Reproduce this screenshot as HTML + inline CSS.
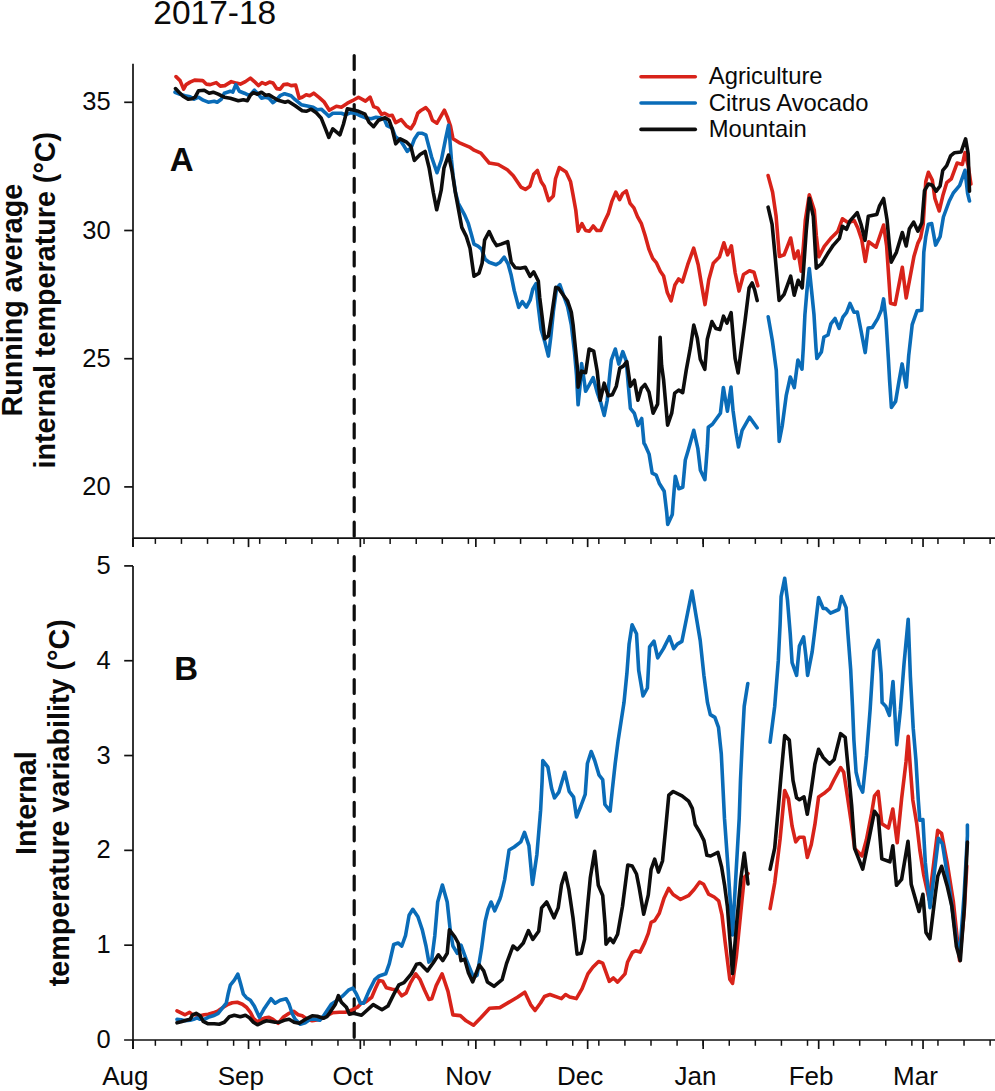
<!DOCTYPE html>
<html><head><meta charset="utf-8"><style>
html,body{margin:0;padding:0;background:#fff;}
svg{display:block;}
text{font-family:"Liberation Sans",sans-serif;fill:#0a0a0a;}
.ax{stroke:#111;stroke-width:1.7;}
.tk{stroke:#111;stroke-width:1.5;}
.tl{font-size:25.5px;text-anchor:end;}
.ml{font-size:26px;text-anchor:middle;}
.title{font-size:33.5px;}
.pl{font-size:33px;font-weight:bold;}
.yl{font-size:28.7px;font-weight:bold;text-anchor:middle;}
.lg{font-size:23.8px;}
.dash{stroke:#0d0d0d;stroke-width:3.2;stroke-dasharray:14 10.56;stroke-linecap:round;}
</style></head><body>
<svg width="995" height="1091" viewBox="0 0 995 1091">
<line x1="133.0" y1="63.7" x2="133.0" y2="547.1" class="ax"/>
<line x1="133.0" y1="538.1" x2="1000" y2="538.1" class="ax"/>
<line x1="133.00" y1="538.1" x2="133.00" y2="547.1" class="ax"/>
<line x1="248.52" y1="538.1" x2="248.52" y2="547.1" class="ax"/>
<line x1="360.32" y1="538.1" x2="360.32" y2="547.1" class="ax"/>
<line x1="475.85" y1="538.1" x2="475.85" y2="547.1" class="ax"/>
<line x1="587.65" y1="538.1" x2="587.65" y2="547.1" class="ax"/>
<line x1="703.17" y1="538.1" x2="703.17" y2="547.1" class="ax"/>
<line x1="818.69" y1="538.1" x2="818.69" y2="547.1" class="ax"/>
<line x1="923.04" y1="538.1" x2="923.04" y2="547.1" class="ax"/>
<line x1="155.36" y1="538.1" x2="155.36" y2="543.9" class="tk"/>
<line x1="181.45" y1="538.1" x2="181.45" y2="543.9" class="tk"/>
<line x1="207.53" y1="538.1" x2="207.53" y2="543.9" class="tk"/>
<line x1="233.62" y1="538.1" x2="233.62" y2="543.9" class="tk"/>
<line x1="259.70" y1="538.1" x2="259.70" y2="543.9" class="tk"/>
<line x1="285.79" y1="538.1" x2="285.79" y2="543.9" class="tk"/>
<line x1="311.88" y1="538.1" x2="311.88" y2="543.9" class="tk"/>
<line x1="337.96" y1="538.1" x2="337.96" y2="543.9" class="tk"/>
<line x1="364.05" y1="538.1" x2="364.05" y2="543.9" class="tk"/>
<line x1="390.14" y1="538.1" x2="390.14" y2="543.9" class="tk"/>
<line x1="416.22" y1="538.1" x2="416.22" y2="543.9" class="tk"/>
<line x1="442.31" y1="538.1" x2="442.31" y2="543.9" class="tk"/>
<line x1="468.39" y1="538.1" x2="468.39" y2="543.9" class="tk"/>
<line x1="494.48" y1="538.1" x2="494.48" y2="543.9" class="tk"/>
<line x1="520.57" y1="538.1" x2="520.57" y2="543.9" class="tk"/>
<line x1="546.65" y1="538.1" x2="546.65" y2="543.9" class="tk"/>
<line x1="572.74" y1="538.1" x2="572.74" y2="543.9" class="tk"/>
<line x1="598.83" y1="538.1" x2="598.83" y2="543.9" class="tk"/>
<line x1="624.91" y1="538.1" x2="624.91" y2="543.9" class="tk"/>
<line x1="651.00" y1="538.1" x2="651.00" y2="543.9" class="tk"/>
<line x1="677.08" y1="538.1" x2="677.08" y2="543.9" class="tk"/>
<line x1="703.17" y1="538.1" x2="703.17" y2="543.9" class="tk"/>
<line x1="729.26" y1="538.1" x2="729.26" y2="543.9" class="tk"/>
<line x1="755.34" y1="538.1" x2="755.34" y2="543.9" class="tk"/>
<line x1="781.43" y1="538.1" x2="781.43" y2="543.9" class="tk"/>
<line x1="807.51" y1="538.1" x2="807.51" y2="543.9" class="tk"/>
<line x1="833.60" y1="538.1" x2="833.60" y2="543.9" class="tk"/>
<line x1="859.69" y1="538.1" x2="859.69" y2="543.9" class="tk"/>
<line x1="885.77" y1="538.1" x2="885.77" y2="543.9" class="tk"/>
<line x1="911.86" y1="538.1" x2="911.86" y2="543.9" class="tk"/>
<line x1="937.95" y1="538.1" x2="937.95" y2="543.9" class="tk"/>
<line x1="964.03" y1="538.1" x2="964.03" y2="543.9" class="tk"/>
<line x1="990.12" y1="538.1" x2="990.12" y2="543.9" class="tk"/>
<line x1="133.0" y1="565.9" x2="133.0" y2="1049.0" class="ax"/>
<line x1="124.1" y1="1040.0" x2="1000" y2="1040.0" class="ax"/>
<line x1="133.00" y1="1040.0" x2="133.00" y2="1049.0" class="ax"/>
<line x1="248.52" y1="1040.0" x2="248.52" y2="1049.0" class="ax"/>
<line x1="360.32" y1="1040.0" x2="360.32" y2="1049.0" class="ax"/>
<line x1="475.85" y1="1040.0" x2="475.85" y2="1049.0" class="ax"/>
<line x1="587.65" y1="1040.0" x2="587.65" y2="1049.0" class="ax"/>
<line x1="703.17" y1="1040.0" x2="703.17" y2="1049.0" class="ax"/>
<line x1="818.69" y1="1040.0" x2="818.69" y2="1049.0" class="ax"/>
<line x1="923.04" y1="1040.0" x2="923.04" y2="1049.0" class="ax"/>
<line x1="155.36" y1="1040.0" x2="155.36" y2="1045.8" class="tk"/>
<line x1="181.45" y1="1040.0" x2="181.45" y2="1045.8" class="tk"/>
<line x1="207.53" y1="1040.0" x2="207.53" y2="1045.8" class="tk"/>
<line x1="233.62" y1="1040.0" x2="233.62" y2="1045.8" class="tk"/>
<line x1="259.70" y1="1040.0" x2="259.70" y2="1045.8" class="tk"/>
<line x1="285.79" y1="1040.0" x2="285.79" y2="1045.8" class="tk"/>
<line x1="311.88" y1="1040.0" x2="311.88" y2="1045.8" class="tk"/>
<line x1="337.96" y1="1040.0" x2="337.96" y2="1045.8" class="tk"/>
<line x1="364.05" y1="1040.0" x2="364.05" y2="1045.8" class="tk"/>
<line x1="390.14" y1="1040.0" x2="390.14" y2="1045.8" class="tk"/>
<line x1="416.22" y1="1040.0" x2="416.22" y2="1045.8" class="tk"/>
<line x1="442.31" y1="1040.0" x2="442.31" y2="1045.8" class="tk"/>
<line x1="468.39" y1="1040.0" x2="468.39" y2="1045.8" class="tk"/>
<line x1="494.48" y1="1040.0" x2="494.48" y2="1045.8" class="tk"/>
<line x1="520.57" y1="1040.0" x2="520.57" y2="1045.8" class="tk"/>
<line x1="546.65" y1="1040.0" x2="546.65" y2="1045.8" class="tk"/>
<line x1="572.74" y1="1040.0" x2="572.74" y2="1045.8" class="tk"/>
<line x1="598.83" y1="1040.0" x2="598.83" y2="1045.8" class="tk"/>
<line x1="624.91" y1="1040.0" x2="624.91" y2="1045.8" class="tk"/>
<line x1="651.00" y1="1040.0" x2="651.00" y2="1045.8" class="tk"/>
<line x1="677.08" y1="1040.0" x2="677.08" y2="1045.8" class="tk"/>
<line x1="703.17" y1="1040.0" x2="703.17" y2="1045.8" class="tk"/>
<line x1="729.26" y1="1040.0" x2="729.26" y2="1045.8" class="tk"/>
<line x1="755.34" y1="1040.0" x2="755.34" y2="1045.8" class="tk"/>
<line x1="781.43" y1="1040.0" x2="781.43" y2="1045.8" class="tk"/>
<line x1="807.51" y1="1040.0" x2="807.51" y2="1045.8" class="tk"/>
<line x1="833.60" y1="1040.0" x2="833.60" y2="1045.8" class="tk"/>
<line x1="859.69" y1="1040.0" x2="859.69" y2="1045.8" class="tk"/>
<line x1="885.77" y1="1040.0" x2="885.77" y2="1045.8" class="tk"/>
<line x1="911.86" y1="1040.0" x2="911.86" y2="1045.8" class="tk"/>
<line x1="937.95" y1="1040.0" x2="937.95" y2="1045.8" class="tk"/>
<line x1="964.03" y1="1040.0" x2="964.03" y2="1045.8" class="tk"/>
<line x1="990.12" y1="1040.0" x2="990.12" y2="1045.8" class="tk"/>
<line x1="124.2" y1="102.30" x2="133.0" y2="102.30" class="ax"/>
<text x="110.6" y="110.30" class="tl">35</text>
<line x1="124.2" y1="230.50" x2="133.0" y2="230.50" class="ax"/>
<text x="110.6" y="238.50" class="tl">30</text>
<line x1="124.2" y1="358.70" x2="133.0" y2="358.70" class="ax"/>
<text x="110.6" y="366.70" class="tl">25</text>
<line x1="124.2" y1="486.90" x2="133.0" y2="486.90" class="ax"/>
<text x="110.6" y="494.90" class="tl">20</text>
<line x1="124.2" y1="945.18" x2="133.0" y2="945.18" class="ax"/>
<text x="110.6" y="953.18" class="tl">1</text>
<line x1="124.2" y1="850.36" x2="133.0" y2="850.36" class="ax"/>
<text x="110.6" y="858.36" class="tl">2</text>
<line x1="124.2" y1="755.54" x2="133.0" y2="755.54" class="ax"/>
<text x="110.6" y="763.54" class="tl">3</text>
<line x1="124.2" y1="660.72" x2="133.0" y2="660.72" class="ax"/>
<text x="110.6" y="668.72" class="tl">4</text>
<line x1="124.2" y1="565.90" x2="133.0" y2="565.90" class="ax"/>
<text x="110.6" y="573.90" class="tl">5</text>
<text x="110.6" y="1048.00" class="tl">0</text>
<text x="125.40" y="1085.2" class="ml">Aug</text>
<text x="240.92" y="1085.2" class="ml">Sep</text>
<text x="352.72" y="1085.2" class="ml">Oct</text>
<text x="468.25" y="1085.2" class="ml">Nov</text>
<text x="580.05" y="1085.2" class="ml">Dec</text>
<text x="695.57" y="1085.2" class="ml">Jan</text>
<text x="811.09" y="1085.2" class="ml">Feb</text>
<text x="915.44" y="1085.2" class="ml">Mar</text>
<line x1="354.2" y1="55.5" x2="354.2" y2="538" class="dash"/>
<line x1="354.2" y1="556.7" x2="354.2" y2="1040" class="dash"/>
<text x="153.3" y="23.8" class="title">2017-18</text>
<text x="169.8" y="171" class="pl">A</text>
<text x="174.2" y="679.5" class="pl">B</text>
<text transform="translate(21.5,300.2) rotate(-90)" class="yl">Running average</text>
<text transform="translate(55,300.2) rotate(-90)" class="yl">internal temperature (°C)</text>
<text transform="translate(35.8,803.1) rotate(-90)" class="yl">Internal</text>
<text transform="translate(68.9,802.8) rotate(-90)" class="yl">temperature variability (°C)</text>
<line x1="641" y1="76.7" x2="695.3" y2="76.7" stroke="#d8231a" stroke-width="3.6" stroke-linecap="round"/>
<text x="708.8" y="84.30" class="lg">Agriculture</text>
<line x1="641" y1="103.0" x2="695.3" y2="103.0" stroke="#0a6cb8" stroke-width="3.6" stroke-linecap="round"/>
<text x="708.8" y="110.60" class="lg">Citrus Avocado</text>
<line x1="641" y1="129.4" x2="695.3" y2="129.4" stroke="#0d0d0d" stroke-width="3.6" stroke-linecap="round"/>
<text x="708.8" y="137.00" class="lg">Mountain</text>
<polyline points="176.0,76.6 180.1,80.6 183.6,89.1 186.1,84.6 190.1,82.1 194.6,80.1 202.7,80.6 206.2,84.1 210.2,84.6 216.2,82.6 220.3,86.1 224.8,85.6 231.3,81.6 236.3,83.1 240.4,84.1 245.4,81.6 250.4,78.1 254.4,81.6 258.4,85.6 262.0,82.6 265.5,84.1 269.5,82.1 273.0,83.1 276.6,88.6 280.1,89.1 283.6,84.6 287.6,84.1 291.1,85.6 295.7,85.1 299.2,98.2 302.2,97.2 306.2,94.7 309.7,95.7 313.7,93.2 319.3,97.7 324.3,102.2 329.3,110.3 336.4,106.2 341.4,107.2 347.4,103.2 352.4,100.7 358.5,97.2 365.5,101.1 370.1,97.1 373.6,106.6 377.6,108.1 381.6,114.2 384.6,113.2 389.1,115.7 392.2,115.2 395.7,122.7 401.2,119.7 406.2,125.7 410.8,128.7 414.3,123.2 417.8,113.2 421.3,110.2 425.8,107.6 429.3,111.7 432.4,120.2 436.9,123.2 440.4,117.2 444.4,110.2 447.4,117.2 450.5,126.2 453.0,138.8 459.0,142.6 469.6,147.1 474.1,150.2 480.9,153.2 489.2,163.0 498.2,164.5 507.3,169.8 513.3,175.8 520.9,187.1 525.4,189.4 529.9,186.3 533.7,174.3 537.4,170.5 541.2,181.8 544.2,186.3 548.7,200.7 553.3,196.1 555.5,178.8 559.3,167.5 566.1,172.0 570.6,181.8 572.8,193.6 575.8,210.2 578.1,231.3 581.9,223.7 585.6,230.5 589.4,231.3 593.2,226.0 596.9,230.5 600.7,230.5 605.2,220.0 608.2,213.9 612.0,201.1 615.8,192.1 619.6,199.6 622.6,193.6 626.3,190.9 630.1,203.4 633.9,207.9 637.6,216.9 641.4,223.7 645.2,235.8 649.0,249.4 652.7,258.4 656.5,262.9 660.3,271.2 663.6,276.0 667.3,292.6 671.1,300.9 674.9,285.0 678.6,279.0 682.4,282.0 687.7,264.7 693.7,248.1 698.2,264.7 702.0,287.3 705.0,304.6 708.8,279.8 713.3,263.2 719.4,257.1 723.9,242.8 727.6,254.9 731.4,245.8 735.2,273.0 739.0,291.1 743.5,274.5 749.5,270.7 754.0,272.2 757.8,285.8" fill="none" stroke="#d8231a" stroke-width="3.6" stroke-linejoin="round" stroke-linecap="round"/>
<polyline points="768.1,175.6 772.6,192.2 776.1,216.3 779.4,256.5 784.1,254.8 790.7,238.0 794.5,258.5 798.0,251.0 801.2,271.2 803.5,245.0 805.3,220.3 809.3,194.7 814.3,210.3 816.3,235.4 818.8,256.8 824.3,246.3 831.4,237.7 837.9,231.2 842.4,218.8 847.5,222.3 850.0,222.0 854.2,220.5 857.8,228.0 861.8,240.0 865.3,261.4 868.6,241.7 876.1,247.2 883.6,225.0 886.6,245.7 890.5,303.2 895.1,304.5 902.3,267.3 906.2,298.0 914.0,256.2 917.9,243.1 920.6,237.6 923.2,224.5 925.8,181.4 928.4,172.3 932.3,180.1 934.9,198.4 939.2,211.0 942.8,195.8 946.7,182.7 951.3,178.8 957.1,163.1 962.4,164.4 965.0,152.7 968.2,165.7 970.9,184.0" fill="none" stroke="#d8231a" stroke-width="3.6" stroke-linejoin="round" stroke-linecap="round"/>
<polyline points="175.0,92.2 180.1,94.2 185.1,95.7 190.1,96.7 194.1,99.2 198.6,97.2 203.2,100.2 208.2,102.2 214.2,101.2 217.2,102.2 221.3,99.2 224.3,93.2 230.3,91.2 232.8,92.2 235.8,84.6 239.3,91.2 244.4,93.2 248.4,95.2 250.4,94.7 254.4,90.2 257.4,93.2 261.5,98.2 265.5,97.2 269.0,98.2 273.0,102.7 276.1,100.2 280.1,95.7 284.6,93.7 291.1,95.7 295.2,99.7 301.2,104.7 306.2,105.7 313.2,107.2 317.3,109.7 321.3,109.2 325.3,112.8 328.8,116.3 332.8,113.3 341.4,113.3 345.4,114.8 350.4,112.8 355.5,113.3 360.5,115.8 365.0,117.7 371.1,118.7 376.1,117.2 380.1,117.7 384.6,119.7 387.1,125.7 392.2,128.2 395.2,136.3 400.2,140.3 404.2,146.3 407.2,151.4 411.3,147.3 414.3,139.3 418.3,133.3 422.3,133.3 425.8,134.8 427.5,141.4 431.6,157.0 437.0,172.7 441.5,159.5 445.6,138.9 448.5,125.3 449.8,138.9 451.4,159.5 453.1,176.0 455.5,192.5 458.3,203.3 464.3,214.3 468.3,223.4 471.4,234.4 474.0,244.1 478.0,246.1 481.6,249.1 485.1,259.2 489.1,262.2 496.1,264.7 500.2,262.2 504.2,257.2 508.2,264.2 511.2,275.3 514.2,290.4 518.7,307.4 522.3,301.6 526.4,307.1 530.1,300.2 532.8,289.2 536.0,283.7 538.3,306.6 541.1,329.5 544.7,341.4 548.4,356.1 550.7,337.8 553.4,311.2 556.6,288.3 559.8,284.7 564.0,296.6 567.6,306.6 571.3,324.9 574.5,352.0 576.5,375.0 578.1,404.8 580.1,385.2 581.6,363.6 584.1,380.2 585.6,391.3 589.1,385.2 593.2,377.7 597.2,392.3 600.7,402.3 604.2,415.4 607.2,400.3 609.7,375.2 611.3,360.1 615.3,349.0 618.8,364.1 622.8,351.6 626.3,361.1 628.3,385.2 630.4,408.3 634.4,413.4 637.9,425.4 641.7,418.5 644.0,443.3 645.1,445.0 649.1,454.1 652.2,473.2 656.2,475.2 659.2,483.2 664.2,491.3 666.7,512.4 667.7,524.4 672.3,514.4 673.3,500.3 675.3,476.2 678.8,488.7 682.8,487.2 685.3,460.1 688.3,450.1 693.8,430.3 697.8,448.3 700.4,470.2 704.9,479.7 707.4,446.0 708.3,427.2 712.4,424.2 720.4,413.2 723.4,387.5 727.4,411.2 731.0,387.0 733.0,410.2 736.0,432.3 738.5,446.9 742.1,430.3 749.6,417.2 757.1,427.8" fill="none" stroke="#0a6cb8" stroke-width="3.6" stroke-linejoin="round" stroke-linecap="round"/>
<polyline points="768.2,316.7 772.3,340.3 776.3,370.5 777.2,395.1 779.2,441.4 782.3,425.3 786.3,395.1 790.3,377.0 794.3,387.6 797.9,360.1 802.0,369.2 803.3,347.8 804.9,314.8 807.0,290.0 809.3,268.5 811.5,290.0 814.0,314.8 816.0,347.8 816.9,358.5 821.4,351.9 823.9,337.0 828.0,335.0 830.9,323.8 835.0,318.5 839.1,328.4 842.9,317.2 846.6,312.3 850.0,303.4 854.0,312.3 857.4,312.1 861.0,330.5 865.2,352.6 868.1,328.1 872.3,327.5 877.7,318.6 881.3,310.3 883.6,298.9 886.0,319.8 888.4,359.1 889.6,380.6 891.4,407.4 895.6,401.4 899.1,380.6 902.1,363.9 906.3,387.1 908.7,355.6 912.2,324.6 917.0,310.9 921.8,310.3 922.5,291.5 923.8,252.3 925.8,236.6 928.4,224.2 931.7,223.5 935.6,245.1 940.1,236.6 943.4,217.0 949.3,201.0 953.2,193.2 959.7,185.3 965.0,170.3 967.6,193.2 969.5,201.0" fill="none" stroke="#0a6cb8" stroke-width="3.6" stroke-linejoin="round" stroke-linecap="round"/>
<polyline points="175.5,88.6 179.0,92.2 183.1,96.2 188.1,99.2 192.1,98.7 195.1,97.2 198.6,90.7 204.2,90.2 209.2,93.2 213.2,92.2 218.2,94.2 224.3,97.2 230.3,98.2 238.3,100.7 243.4,99.7 247.4,100.7 250.4,95.2 253.4,92.7 257.4,94.2 261.5,92.2 265.5,95.2 269.0,94.7 273.0,97.2 278.1,100.2 285.1,102.2 288.1,101.2 295.2,105.7 302.2,110.8 306.2,111.3 311.2,109.2 316.3,112.8 321.3,118.3 325.3,128.3 328.8,137.4 332.8,128.8 339.9,134.9 343.4,124.3 347.4,108.7 352.4,109.7 358.5,111.3 365.0,114.2 369.0,122.2 373.6,126.7 378.6,120.2 385.1,117.7 389.1,120.2 392.2,129.2 395.7,143.8 400.2,138.8 406.2,141.8 410.8,146.3 414.3,160.4 420.1,154.5 425.1,151.5 429.1,167.8 433.3,192.5 436.7,209.8 441.2,190.2 444.0,167.8 448.5,155.0 452.2,171.9 455.3,192.2 458.3,208.3 461.8,227.4 466.3,236.4 470.0,248.1 474.0,276.3 479.0,273.3 482.1,263.2 484.6,240.1 489.1,231.6 493.1,240.1 496.6,245.6 501.2,244.1 507.7,241.6 511.2,262.2 515.2,267.7 520.3,268.2 525.3,267.2 530.1,276.4 533.7,271.8 538.3,281.0 539.7,297.5 542.0,315.8 544.7,338.7 548.4,335.9 551.6,315.8 555.7,287.4 558.5,288.3 563.0,294.7 567.6,301.1 571.3,312.1 573.1,324.9 574.9,343.3 577.6,370.0 578.1,387.2 581.6,371.2 585.6,372.7 589.1,349.0 593.7,351.1 597.2,371.2 600.2,400.3 604.2,383.2 608.2,395.8 612.3,394.8 616.3,386.2 619.8,368.1 623.3,366.1 626.8,361.6 630.4,386.2 634.4,380.2 637.9,400.3 641.4,388.2 645.0,384.5 649.0,392.1 653.1,413.2 657.6,404.1 658.6,380.0 660.1,337.2 661.6,365.3 663.6,380.0 667.6,425.2 671.7,413.2 674.7,393.1 678.7,390.1 682.7,392.6 686.2,370.4 690.3,348.2 693.8,325.1 697.3,338.2 700.3,359.3 704.8,369.3 707.3,339.2 711.9,321.6 715.9,328.6 719.9,329.6 723.5,316.2 727.0,323.2 731.1,312.7 733.1,336.3 735.1,358.4 738.1,373.0 741.1,350.4 745.1,320.2 749.1,288.0 752.2,283.0 754.7,290.1 757.2,300.6" fill="none" stroke="#0d0d0d" stroke-width="3.6" stroke-linejoin="round" stroke-linecap="round"/>
<polyline points="768.1,207.2 772.1,224.3 775.1,256.1 779.1,300.4 784.1,294.3 790.7,276.2 794.2,295.3 798.2,280.3 802.2,287.8 804.2,260.2 806.3,230.0 809.3,198.2 813.3,216.3 816.3,268.2 821.3,264.2 827.4,254.1 833.4,245.1 839.4,238.4 842.4,226.3 846.5,229.3 850.0,220.9 857.2,212.6 861.1,224.5 865.0,240.3 868.3,216.2 872.9,215.2 876.8,214.5 879.4,206.2 883.6,198.5 887.0,219.5 889.2,243.1 891.2,262.1 896.4,252.3 902.3,232.5 906.2,246.0 909.4,228.7 913.6,222.1 917.9,231.2 921.9,222.7 924.5,190.6 928.4,184.0 932.3,185.3 936.2,191.2 940.1,186.0 942.8,170.3 946.7,165.7 950.6,155.9 954.5,152.7 961.1,152.0 965.6,138.9 968.2,154.0 969.5,191.2" fill="none" stroke="#0d0d0d" stroke-width="3.6" stroke-linejoin="round" stroke-linecap="round"/>
<polyline points="177.0,1010.8 181.1,1012.8 185.1,1014.8 189.6,1012.3 192.1,1014.3 200.2,1015.8 204.2,1014.8 208.2,1014.3 213.2,1012.8 218.2,1010.8 223.3,1007.2 228.3,1004.2 232.3,1002.7 237.3,1002.2 242.4,1004.2 246.4,1007.2 250.4,1012.3 253.4,1018.3 257.4,1021.8 261.5,1019.3 265.5,1017.8 269.0,1017.3 273.0,1019.3 278.1,1023.3 283.1,1017.3 289.1,1013.3 293.6,1011.3 298.2,1014.8 302.2,1015.8 307.2,1019.3 312.2,1020.8 318.3,1019.8 323.3,1017.8 327.3,1015.3 332.3,1012.8 339.4,1012.3 345.4,1012.3 351.4,1010.3 357.5,1007.2 361.0,1003.5 365.9,1001.7 371.7,997.3 375.4,988.5 379.1,980.4 382.7,981.2 386.4,987.8 392.3,989.2 397.4,990.0 401.8,995.8 406.2,992.9 410.6,982.6 415.7,973.8 420.1,979.7 424.5,990.0 428.9,999.5 431.8,998.8 436.2,985.6 442.1,973.8 448.0,991.4 452.9,1014.9 460.3,1015.6 466.1,1020.8 473.5,1025.2 480.8,1017.8 489.6,1008.3 499.9,1007.6 508.7,1002.4 517.4,997.3 524.8,992.2 530.6,1004.6 535.0,1010.5 540.5,1003.0 544.5,996.5 549.9,994.5 561.5,998.6 565.6,994.5 569.7,997.0 576.3,998.6 582.1,988.7 587.9,973.9 592.8,967.3 598.6,961.5 602.7,963.1 609.3,981.3 613.4,978.0 617.6,982.1 625.0,973.9 627.5,962.3 632.4,952.4 635.5,950.8 640.1,952.1 644.7,942.6 648.3,933.4 651.1,922.4 654.7,920.6 659.3,913.3 663.9,898.6 668.6,888.4 673.1,894.5 680.5,899.4 688.5,895.7 694.1,889.5 699.6,882.0 703.6,884.3 708.6,894.1 714.2,897.0 718.7,900.9 722.0,915.2 725.2,942.6 729.8,979.2 732.5,983.4 736.3,957.0 740.5,915.0 744.3,877.3 748.0,873.6" fill="none" stroke="#d8231a" stroke-width="3.6" stroke-linejoin="round" stroke-linecap="round"/>
<polyline points="770.1,908.6 774.7,883.0 780.1,839.0 784.7,790.5 788.4,798.8 792.1,826.2 795.7,841.8 799.4,837.2 804.0,837.2 807.3,857.4 811.3,844.5 814.9,824.4 818.6,796.9 824.1,793.3 829.6,788.7 834.2,779.5 840.6,767.6 843.7,772.3 847.3,795.8 851.0,820.7 854.7,848.6 862.0,855.9 866.4,839.8 871.6,813.4 874.5,795.8 878.2,791.4 881.8,823.7 888.4,828.1 892.8,809.0 897.2,842.7 901.6,798.7 906.0,762.0 908.2,736.4 910.5,770.0 912.8,800.0 916.7,823.4 919.8,849.9 923.7,874.8 929.2,899.8 933.8,862.4 937.7,830.4 941.6,833.5 947.1,862.4 953.3,901.3 959.6,960.6 964.2,912.0 966.8,866.0" fill="none" stroke="#d8231a" stroke-width="3.6" stroke-linejoin="round" stroke-linecap="round"/>
<polyline points="177.0,1019.3 181.1,1019.8 185.1,1020.8 190.1,1020.3 193.6,1019.3 197.1,1017.8 200.2,1019.3 204.2,1019.3 208.2,1017.3 213.2,1015.8 218.2,1013.3 222.3,1008.2 226.3,1003.2 228.3,993.2 230.3,985.1 234.3,980.1 237.8,974.1 240.4,983.1 243.4,994.2 246.4,997.7 250.4,1000.2 254.4,1006.2 259.4,1017.3 264.5,1008.2 271.0,998.7 275.1,1003.2 280.1,1000.2 286.1,998.7 289.1,1004.2 292.1,1013.3 295.2,1019.3 300.2,1024.3 305.2,1022.8 310.2,1019.3 315.3,1019.3 319.8,1020.3 323.3,1016.3 327.3,1010.3 331.3,1004.2 337.4,1000.2 342.4,996.2 348.4,990.2 352.9,988.1 356.5,994.2 360.5,1003.2 363.7,1003.2 368.8,991.4 374.7,979.7 379.1,976.0 385.7,973.8 389.3,963.6 393.7,944.5 398.1,943.0 401.8,946.0 405.5,935.7 409.1,915.2 412.8,909.3 417.9,916.7 422.3,929.9 426.0,946.0 428.9,962.1 431.8,959.2 434.8,935.7 437.7,902.0 442.4,885.1 447.2,902.0 450.2,929.9 452.9,946.0 457.3,953.3 461.0,945.2 466.1,959.2 473.5,977.5 477.1,975.3 481.5,948.9 485.2,921.1 488.1,909.3 491.1,902.0 494.7,910.8 499.9,899.1 501.0,895.4 504.7,879.3 509.1,850.0 514.2,847.0 520.8,841.9 524.5,832.4 528.9,845.6 532.5,884.4 536.9,854.4 540.6,810.4 542.1,781.1 542.8,760.5 547.9,767.1 551.6,788.4 554.5,797.9 558.9,792.1 564.8,772.3 569.2,791.3 573.6,797.2 576.5,817.0 580.9,806.0 585.2,794.3 587.4,763.5 591.2,751.5 594.7,760.5 599.1,775.2 602.7,779.6 604.9,804.5 610.1,811.1 612.3,789.9 615.2,763.5 618.1,740.8 624.0,702.6 626.9,673.3 629.1,644.0 632.1,624.9 636.5,633.7 638.7,670.4 643.0,696.0 647.4,688.0 649.6,646.9 654.0,641.1 657.7,657.9 663.6,648.4 669.4,636.7 673.7,648.7 677.3,644.1 681.9,641.4 686.5,618.5 692.0,591.0 695.6,613.0 700.2,640.4 703.9,675.2 707.5,702.7 710.3,714.6 714.9,717.4 718.5,727.4 721.3,754.0 724.5,818.7 728.2,870.0 732.5,935.0 736.2,870.0 739.2,818.7 740.5,780.0 742.3,741.2 744.2,706.4 747.8,683.5" fill="none" stroke="#0a6cb8" stroke-width="3.6" stroke-linejoin="round" stroke-linecap="round"/>
<polyline points="770.1,742.2 774.7,706.5 778.3,660.7 780.1,624.1 781.1,596.6 784.7,578.3 787.5,600.3 790.2,633.3 792.1,662.6 796.6,675.4 799.4,646.1 803.6,636.9 805.8,655.2 807.6,675.4 812.2,651.6 814.9,629.6 818.6,597.5 823.2,608.5 825.9,608.5 830.5,613.1 838.8,609.5 841.5,596.6 846.1,607.6 847.9,633.3 850.7,669.9 852.5,706.5 853.9,740.0 856.1,772.3 859.2,785.0 862.7,792.1 866.5,755.7 870.1,709.9 873.8,651.3 878.4,640.3 881.1,673.3 882.1,702.6 885.7,706.2 889.4,715.4 893.0,681.5 896.7,744.7 900.4,709.9 904.0,664.1 908.2,619.2 910.4,676.9 913.2,728.2 915.9,759.3 918.3,800.0 919.8,820.3 922.9,819.5 925.3,862.4 930.0,907.6 934.6,870.2 938.5,838.2 942.4,843.7 950.2,893.5 956.4,940.3 959.6,955.9 964.2,893.5 967.4,835.9 967.4,825.0" fill="none" stroke="#0a6cb8" stroke-width="3.6" stroke-linejoin="round" stroke-linecap="round"/>
<polyline points="177.0,1022.8 181.1,1021.8 186.1,1020.3 190.1,1019.3 192.6,1014.8 196.1,1013.3 200.2,1015.8 203.2,1021.3 208.2,1023.8 214.2,1023.8 219.2,1024.3 224.3,1022.3 229.3,1016.8 234.3,1015.3 240.4,1016.8 245.4,1015.3 249.4,1017.8 253.4,1022.3 257.4,1024.8 262.5,1022.3 266.5,1020.8 270.0,1021.3 275.1,1022.3 279.1,1022.3 284.1,1020.3 289.1,1019.3 294.1,1022.3 299.2,1023.3 303.2,1020.8 307.2,1018.3 312.2,1015.8 317.3,1016.3 323.3,1018.3 327.3,1016.3 331.3,1010.3 335.4,1004.2 338.4,995.7 341.4,1002.2 346.4,1007.2 349.4,1014.3 353.4,1013.3 357.5,1014.3 361.5,1015.3 365.9,1011.2 373.2,1004.6 382.0,1009.8 387.9,1006.1 393.7,994.4 398.9,984.8 404.0,982.6 411.3,973.8 416.5,964.3 420.1,963.6 427.4,970.9 433.3,962.8 438.4,954.8 442.8,960.6 447.2,953.3 449.4,929.9 454.6,936.5 458.2,943.0 461.0,960.6 464.7,959.2 468.3,972.4 472.7,981.9 479.3,965.0 483.7,970.9 487.4,981.9 494.0,986.3 502.1,979.7 506.5,963.6 513.0,946.0 517.4,949.6 523.3,943.0 528.4,930.6 532.8,939.4 538.7,931.3 541.6,907.9 546.7,902.0 554.0,917.8 558.2,907.9 561.5,884.8 565.2,873.0 568.9,889.7 573.0,917.8 577.1,954.1 581.3,953.2 584.6,939.2 587.9,902.9 590.3,877.8 594.7,851.4 598.3,885.2 602.7,895.5 605.2,926.0 606.0,944.2 610.1,938.4 613.4,942.5 617.6,934.3 622.5,906.2 627.8,865.0 632.2,866.0 636.5,874.0 639.2,887.6 643.7,914.2 648.3,894.9 651.1,869.3 654.7,859.2 658.4,872.1 662.5,861.0 665.9,826.0 668.8,795.2 673.2,791.5 682.0,795.9 688.6,801.1 692.3,808.4 695.2,824.5 699.6,831.8 704.0,840.6 706.9,855.3 710.6,856.0 717.9,852.4 721.6,867.0 724.5,884.6 727.4,906.6 732.5,973.5 736.5,925.0 740.7,880.0 744.3,853.1 748.0,883.9" fill="none" stroke="#0d0d0d" stroke-width="3.6" stroke-linejoin="round" stroke-linecap="round"/>
<polyline points="770.1,869.3 774.7,848.2 778.3,807.9 781.1,774.9 784.7,735.6 789.3,740.1 793.0,780.4 796.6,797.8 799.4,799.7 804.0,796.9 807.3,814.3 811.3,789.6 814.9,764.0 818.6,749.3 823.2,757.5 829.6,764.0 834.2,759.4 840.6,733.7 845.2,737.4 847.9,765.8 851.7,806.0 854.7,848.6 862.7,869.1 869.4,836.9 874.5,811.2 878.2,816.3 881.8,858.9 889.9,861.8 892.8,845.7 896.5,885.3 901.6,879.4 908.0,841.3 909.7,862.4 911.2,884.2 919.0,911.5 922.9,894.3 926.0,932.5 929.9,938.8 935.4,893.5 937.7,876.4 941.6,866.3 947.1,885.7 951.8,906.0 956.4,946.6 960.3,960.6 964.2,909.1 967.4,842.1" fill="none" stroke="#0d0d0d" stroke-width="3.6" stroke-linejoin="round" stroke-linecap="round"/>
</svg>
</body></html>
